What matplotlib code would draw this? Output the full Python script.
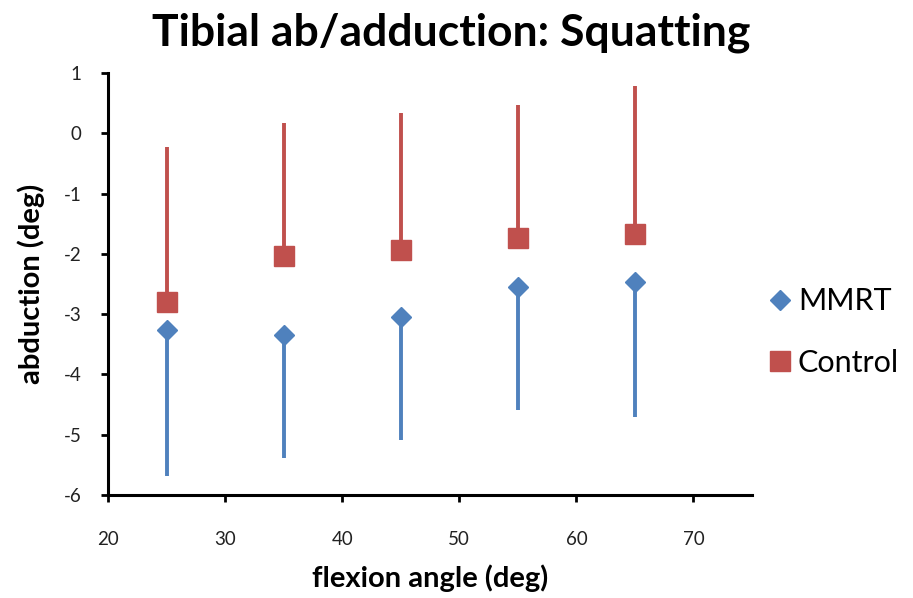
import matplotlib
matplotlib.use("Agg")
import matplotlib.pyplot as plt
from matplotlib.lines import Line2D

flexion = [25, 35, 45, 55, 65]
mmrt_mean = [-3.27, -3.35, -3.05, -2.55, -2.47]
mmrt_low_end = [-5.69, -5.38, -5.09, -4.59, -4.71]
ctrl_mean = [-2.79, -2.04, -1.94, -1.74, -1.67]
ctrl_high_end = [-0.23, 0.17, 0.33, 0.47, 0.79]
xticks = [20, 30, 40, 50, 60, 70]
yticks = [-6, -5, -4, -3, -2, -1, 0, 1]

blue = "#4F81BD"
red = "#C0504D"
plt.rcParams['font.family'] = ['Lato', 'DejaVu Sans']
plt.rcParams['axes.unicode_minus'] = False

fig = plt.figure(figsize=(9.13, 5.98), dpi=100)
ax = fig.add_axes([0.1183, 0.1722, 0.7054, 0.7057])

mmrt_err = [[m - l for m, l in zip(mmrt_mean, mmrt_low_end)], [0] * len(mmrt_mean)]
ctrl_err = [[0] * len(ctrl_mean), [h - m for m, h in zip(ctrl_mean, ctrl_high_end)]]

ax.errorbar(flexion, mmrt_mean, yerr=mmrt_err, fmt='D', color=blue, ms=10,
            elinewidth=2.8, capsize=0, zorder=3)
ax.errorbar(flexion, ctrl_mean, yerr=ctrl_err, fmt='s', color=red, ms=15,
            elinewidth=2.8, capsize=0, zorder=3)

ax.set_xlim(20, 75)
ax.set_ylim(-6, 1)
ax.set_xticks(xticks)
ax.set_yticks(yticks)
ax.tick_params(direction='out', length=5, width=2, labelsize=13.5, colors='black',
               labelcolor='#222222')
ax.tick_params(axis='x', pad=21)
ax.tick_params(axis='y', pad=14)
for s in ['top', 'right']:
    ax.spines[s].set_visible(False)
for s in ['left', 'bottom']:
    ax.spines[s].set_linewidth(2.2)

ax.set_xlabel("flexion angle (deg)", fontsize=21, fontweight='bold', va='center')
ax.xaxis.set_label_coords(0.5, -83 / 422)
ax.set_ylabel("abduction (deg)", fontsize=21, fontweight='bold', va='center')
ax.yaxis.set_label_coords(-77 / 644, 0.5)
fig.text(451 / 913, 1 - 33 / 598, "Tibial ab/adduction: Squatting", fontsize=32,
         fontweight='bold', ha='center', va='center')

handles = [Line2D([], [], marker='D', color=blue, ls='none', ms=10),
           Line2D([], [], marker='s', color=red, ls='none', ms=15)]
fig.legend(handles, ["MMRT", "Control"], loc='center left',
           bbox_to_anchor=(752 / 913, 1 - 332 / 598), frameon=False,
           fontsize=22, handletextpad=0.1, labelspacing=1.1, handlelength=1.0,
           borderaxespad=0, borderpad=0.4)

fig.savefig("out.png", dpi=100)
